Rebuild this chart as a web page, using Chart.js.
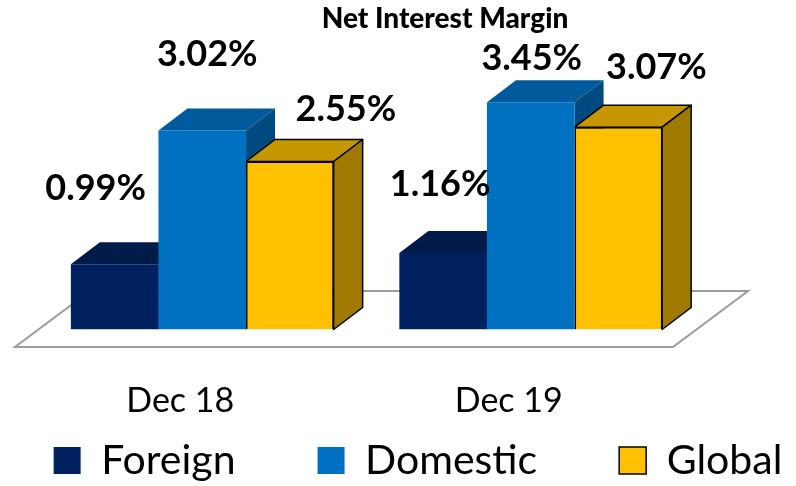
<!DOCTYPE html>
<html><head><meta charset="utf-8">
<script src="https://cdn.jsdelivr.net/npm/chart.js@4.4.1/dist/chart.umd.min.js"></script>
<style>html,body{margin:0;padding:0;background:#fff}</style>
</head><body>
<canvas id="c" width="796" height="486"></canvas>
<script>
const categories = ['Dec 18', 'Dec 19'];
const seriesNames = ['Foreign', 'Domestic', 'Global'];
const foreignValues = [0.99, 1.16];
const domesticValues = [3.02, 3.45];
const globalValues = [2.55, 3.07];
const chartTitle = 'Net Interest Margin';

const frontColors = ['#002060', '#0070C0', '#FFC000'];
const topColors = ['#001a4a', '#005a9c', '#c79700'];
const sideColors = ['#00143a', '#004a80', '#a07a00'];
const edgeColors = [null, null, '#000000'];
// manual label placement (pixel offsets from bar top centre), [series][category]
const labelOffsets = [[[-19, -76], [-3, -69]], [[5, -76], [1, -44]], [[56, -52], [38, -60]]];
const DX = 29, DY = -22;

const bar3d = {
  id: 'bar3d',
  beforeDatasetsDraw(chart) {
    const ctx = chart.ctx, a = chart.chartArea;
    const yb = chart.scales.y.getPixelForValue(0);
    ctx.save();
    ctx.beginPath();
    ctx.moveTo(a.left - 23, yb + 17.5);
    ctx.lineTo(a.right - 22, yb + 17.5);
    ctx.lineTo(a.right + 53, yb - 38.5);
    ctx.lineTo(a.left + 52, yb - 38.5);
    ctx.closePath();
    ctx.fillStyle = '#ffffff';
    ctx.fill();
    ctx.strokeStyle = '#9c9c9c';
    ctx.lineWidth = 2;
    ctx.stroke();
    chart.data.datasets.forEach((ds, i) => {
      const meta = chart.getDatasetMeta(i);
      meta.data.forEach(bar => {
        const p = bar.getProps(['x', 'y', 'base', 'width'], true);
        const l = p.x - p.width / 2, r = p.x + p.width / 2, t = p.y, b = p.base;
        ctx.beginPath();
        ctx.moveTo(l, t); ctx.lineTo(l + DX, t + DY); ctx.lineTo(r + DX, t + DY); ctx.lineTo(r, t); ctx.closePath();
        ctx.fillStyle = topColors[i]; ctx.fill();
        if (edgeColors[i]) { ctx.strokeStyle = edgeColors[i]; ctx.lineWidth = 1.5; ctx.lineJoin = 'round'; ctx.stroke(); }
        ctx.beginPath();
        ctx.moveTo(r, t); ctx.lineTo(r + DX, t + DY); ctx.lineTo(r + DX, b + DY); ctx.lineTo(r, b); ctx.closePath();
        ctx.fillStyle = sideColors[i]; ctx.fill();
        if (edgeColors[i]) { ctx.strokeStyle = edgeColors[i]; ctx.lineWidth = 1.5; ctx.stroke(); }
      });
    });
    ctx.restore();
  },
  afterDatasetsDraw(chart) {
    const ctx = chart.ctx;
    ctx.save();
    ctx.font = 'bold 36px Lato';
    ctx.fillStyle = '#000';
    ctx.textAlign = 'center';
    ctx.textBaseline = 'middle';
    chart.data.datasets.forEach((ds, i) => {
      const meta = chart.getDatasetMeta(i);
      meta.data.forEach((bar, j) => {
        const o = labelOffsets[i][j];
        ctx.fillText(ds.data[j].toFixed(2) + '%', bar.x + o[0], bar.y + o[1]);
      });
    });
    ctx.font = '900 28px Lato';
    ctx.fillText(chartTitle, 445, 19);
    ctx.restore();
  }
};

const valueSets = [foreignValues, domesticValues, globalValues];
new Chart(document.getElementById('c'), {
  type: 'bar',
  data: {
    labels: categories,
    datasets: seriesNames.map((n, i) => ({
      label: n,
      data: valueSets[i],
      backgroundColor: frontColors[i],
      borderColor: edgeColors[i] || frontColors[i],
      borderWidth: edgeColors[i] ? 1.5 : 0,
      categoryPercentage: 0.8,
      barPercentage: 1.0
    }))
  },
  options: {
    responsive: false,
    animation: false,
    layout: { padding: { left: -50, right: -90, top: 33, bottom: -5 } },
    plugins: {
      title: { display: false },
      tooltip: { enabled: false },
      legend: {
        display: true,
        position: 'bottom',
        labels: {
          boxWidth: 27, boxHeight: 27, padding: 82,
          color: '#000',
          font: { family: 'Lato', size: 41 }
        }
      }
    },
    scales: {
      x: {
        grid: { display: false },
        border: { display: false },
        ticks: { color: '#000', font: { family: 'Lato', size: 34 }, padding: -92, mirror: true, labelOffset: -22 },
        afterFit(s) { s.height = 28.5; }
      },
      y: {
        position: 'right',
        min: 0, max: 4.5,
        grid: { display: false },
        border: { display: false },
        ticks: { display: false },
        afterFit(s) { s.width = 191; }
      },
      pad: {
        type: 'linear',
        position: 'left',
        grid: { display: false },
        border: { display: false },
        ticks: { display: false },
        afterFit(s) { s.width = 88; }
      }
    }
  },
  plugins: [bar3d]
});
</script>
</body></html>
